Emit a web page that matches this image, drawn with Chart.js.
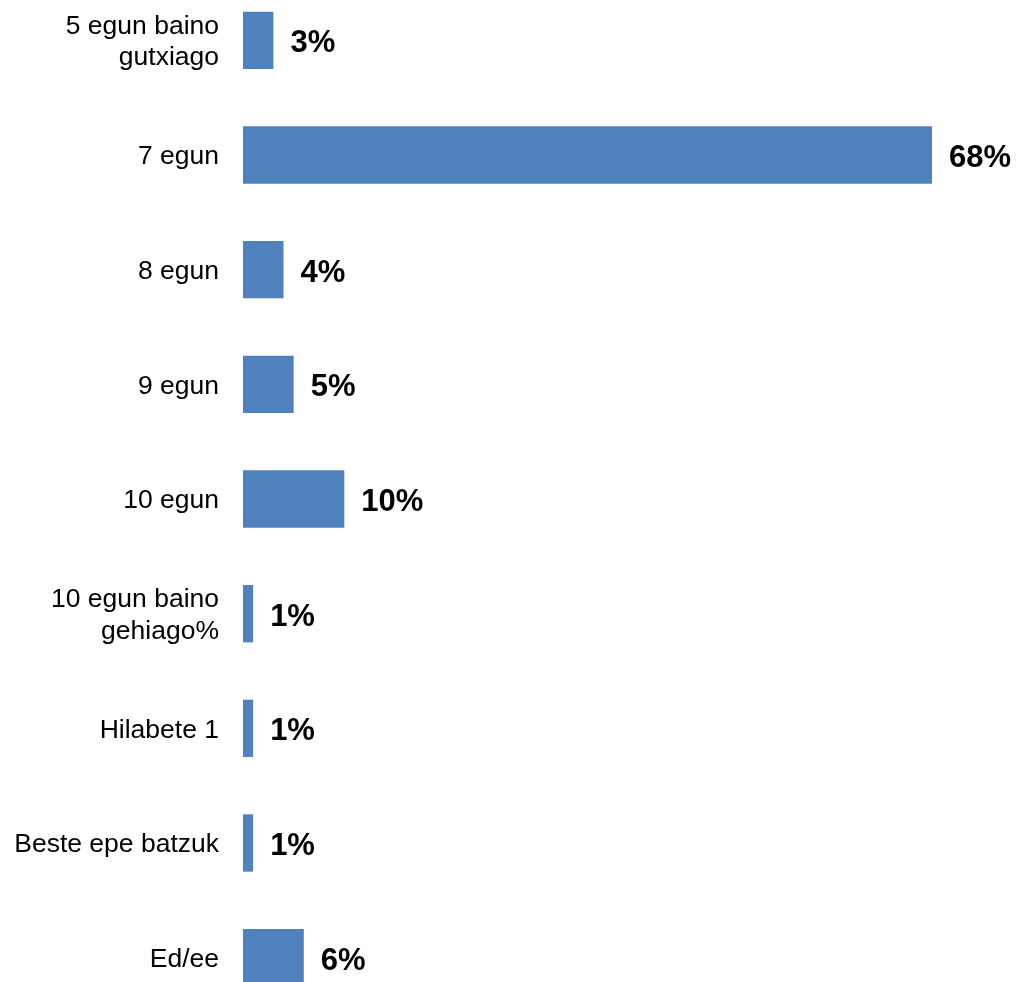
<!DOCTYPE html>
<html>
<head>
<meta charset="utf-8">
<script src="https://cdn.jsdelivr.net/npm/chart.js@4/dist/chart.umd.min.js"></script>
<style>
  html, body { margin: 0; padding: 0; background: #fff; overflow: hidden; }
  #wrap { position: absolute; left: 0; top: -17px; width: 1017px; height: 1032px; }
</style>
</head>
<body>
<div id="wrap"><canvas id="chart" width="1017" height="1032"></canvas></div>
<script>
const categories = [
  ['5 egun baino', 'gutxiago'],
  '7 egun',
  '8 egun',
  '9 egun',
  '10 egun',
  ['10 egun baino', 'gehiago%'],
  'Hilabete 1',
  'Beste epe batzuk',
  'Ed/ee'
];
const percents = [3, 68, 4, 5, 10, 1, 1, 1, 6];

// writes the bold "NN%" text just past the end of each bar
const valueLabels = {
  id: 'valueLabels',
  afterDatasetsDraw(chart) {
    const ctx = chart.ctx;
    const meta = chart.getDatasetMeta(0);
    ctx.save();
    ctx.font = 'bold 31px "Liberation Sans", Arial, sans-serif';
    ctx.fillStyle = '#000';
    ctx.textAlign = 'left';
    ctx.textBaseline = 'alphabetic';
    meta.data.forEach(function (bar, i) {
      ctx.fillText(percents[i] + '%', bar.x + 17, bar.y + 12);
    });
    ctx.restore();
  }
};

new Chart(document.getElementById('chart'), {
  type: 'bar',
  data: {
    labels: categories,
    datasets: [{
      data: percents,
      backgroundColor: '#4F81BD',
      borderWidth: 0,
      barPercentage: 0.5,
      categoryPercentage: 1.0
    }]
  },
  options: {
    indexAxis: 'y',
    responsive: false,
    animation: false,
    layout: { padding: { left: 0, right: 4, top: 0, bottom: 0 } },
    plugins: {
      legend: { display: false },
      tooltip: { enabled: false }
    },
    scales: {
      x: {
        display: false,
        min: 0,
        max: 76
      },
      y: {
        afterFit: function (scale) {
          // fixed label column, and no extra room above/below for the labels
          scale.width = 243;
          scale.paddingTop = 0;
          scale.paddingBottom = 0;
        },
        grid: { display: false },
        border: { display: false },
        ticks: {
          color: '#000',
          padding: 16,
          labelOffset: 2,
          font: { family: '"Liberation Sans", Arial, sans-serif', size: 26.5, lineHeight: 1.18 }
        }
      }
    }
  },
  plugins: [valueLabels]
});
</script>
</body>
</html>
